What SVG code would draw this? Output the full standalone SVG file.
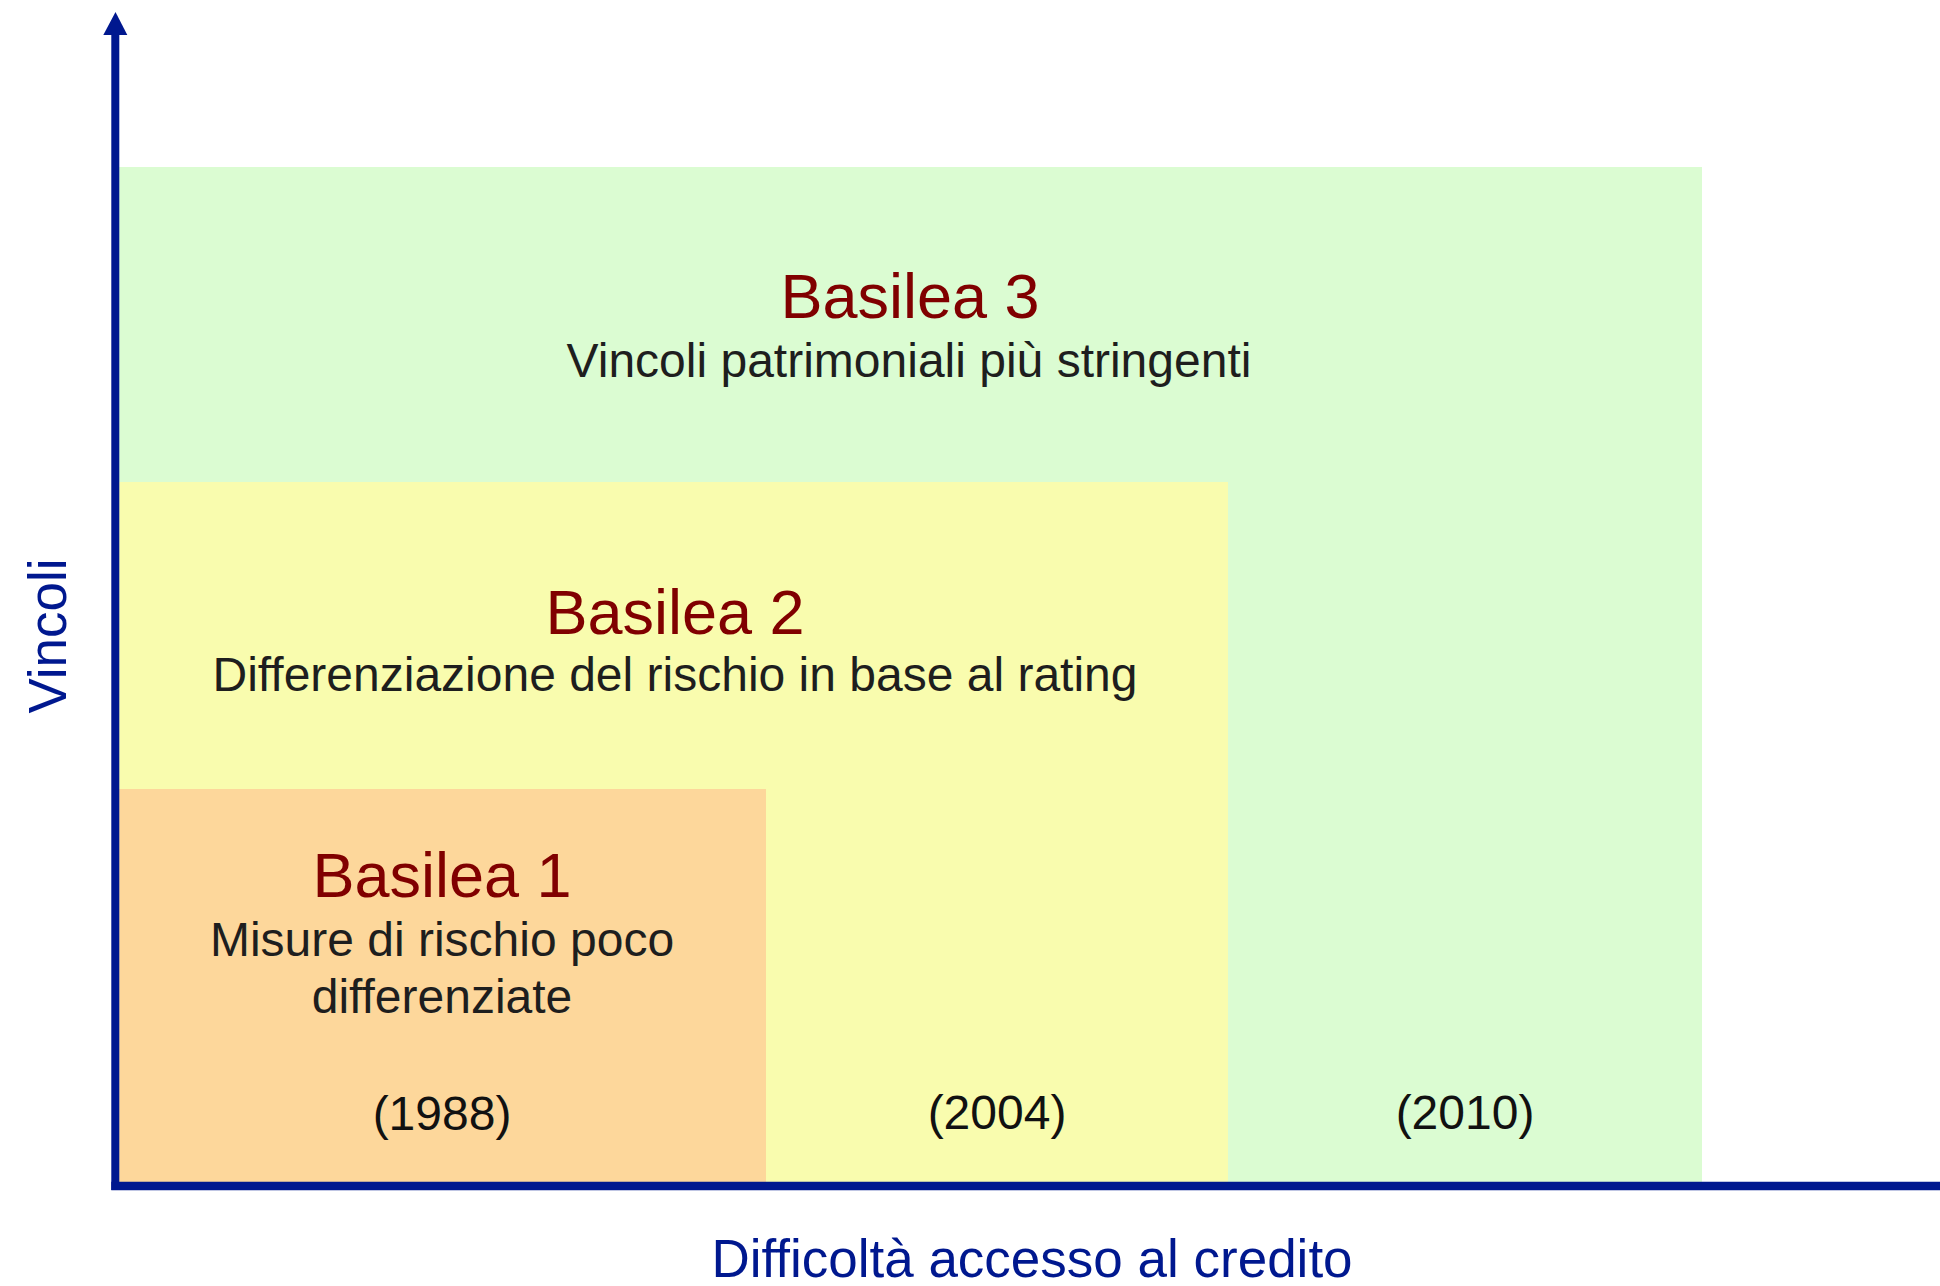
<svg xmlns="http://www.w3.org/2000/svg" width="1940" height="1286" viewBox="0 0 1940 1286">
<style>
.t{font-family:"Liberation Sans",Arial,sans-serif;text-anchor:middle}
.title{font-size:63px;fill:#800000}
.body{font-size:48px;fill:#1e1e1e}
.year{font-size:48px;fill:#111}
.axis{font-size:53px;fill:#00188f}
</style>
<rect width="1940" height="1286" fill="#ffffff"/>
<g id="basilea3">
<rect x="119" y="167" width="1583" height="1015" fill="#dbfcd2"/>
<text class="t title" x="910" y="318">Basilea 3</text>
<text class="t body" x="909" y="377">Vincoli patrimoniali più stringenti</text>
<text class="t year" x="1465" y="1129">(2010)</text>
</g>
<g id="basilea2">
<rect x="119" y="482" width="1109" height="700" fill="#f9fcae"/>
<text class="t title" x="675" y="634">Basilea 2</text>
<text class="t body" x="675" y="691">Differenziazione del rischio in base al rating</text>
<text class="t year" x="997" y="1129">(2004)</text>
</g>
<g id="basilea1">
<rect x="119" y="789" width="647" height="393" fill="#fdd79b"/>
<text class="t title" x="442" y="897">Basilea 1</text>
<text class="t body" x="442" y="956">Misure di rischio poco</text>
<text class="t body" x="442" y="1013">differenziate</text>
<text class="t year" x="442" y="1130">(1988)</text>
</g>
<g id="connectors">
<line x1="115.3" y1="30" x2="115.3" y2="1190" stroke="#00188f" stroke-width="8"/>
<polygon points="115.5,12 103.3,35 127.3,35" fill="#00188f"/>
<line x1="111.3" y1="1186" x2="1940" y2="1186" stroke="#00188f" stroke-width="8.5"/>
</g>
<g id="labels">
<text class="t axis" x="1032" y="1277">Difficoltà accesso al credito</text>
<text class="t axis" transform="translate(66,636) rotate(-90)" x="0" y="0">Vincoli</text>
</g>
</svg>
